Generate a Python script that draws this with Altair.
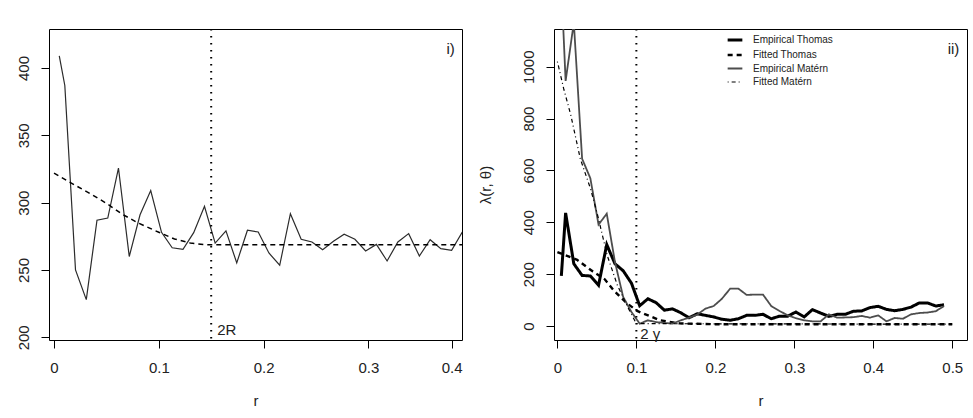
import altair as alt
import pandas as pd

FONT = "Liberation Sans"

# ---------------- left panel (i) ----------------
left_r = [0.005, 0.0103, 0.0205, 0.0308, 0.0410, 0.0513, 0.0615, 0.0718, 0.0821, 0.0923,
          0.1026, 0.1128, 0.1231, 0.1333, 0.1436, 0.1538, 0.1641, 0.1744, 0.1846, 0.1949,
          0.2051, 0.2154, 0.2256, 0.2359, 0.2462, 0.2564, 0.2667, 0.2769, 0.2872, 0.2974,
          0.3077, 0.3179, 0.3282, 0.3385, 0.3487, 0.3590, 0.3692, 0.3795, 0.3897]
left_emp = [409, 387, 250, 228, 287, 288.6, 325.7, 260, 291, 309,
            278, 266.5, 265.3, 277.7, 297.3, 270, 279, 255.3, 279.5, 278.2,
            262.6, 253.5, 291.8, 272.8, 270.8, 265, 271.3, 276.5, 272.8, 264.1,
            269, 256.7, 270.8, 277, 260.4, 272.5, 265.8, 264.6, 278.2]
left_fit_r = [0, 0.02, 0.035, 0.05, 0.065, 0.08, 0.10, 0.115, 0.13, 0.145, 0.16, 0.40]
left_fit = [322, 313, 306.5, 299.5, 291.5, 285, 278, 273, 270, 268.8, 268.8, 268.8]
left_vline = [0.15]
left_xticks = [0, 0.1, 0.2, 0.3, 0.3795]
left_yticks = [200, 250, 300, 350, 400]

# ---------------- right panel (ii) ----------------
right_r = [0.005, 0.0104, 0.0208, 0.0313, 0.0417, 0.0521, 0.0625, 0.0729, 0.0833, 0.0938,
           0.1042, 0.1146, 0.1250, 0.1354, 0.1458, 0.1563, 0.1667, 0.1771, 0.1875, 0.1979,
           0.2083, 0.2188, 0.2292, 0.2396, 0.2500, 0.2604, 0.2708, 0.2813, 0.2917, 0.3021,
           0.3125, 0.3229, 0.3333, 0.3438, 0.3542, 0.3646, 0.3750, 0.3854, 0.3958, 0.4063,
           0.4167, 0.4271, 0.4375, 0.4479, 0.4583, 0.4688, 0.4792, 0.4896]
emp_thomas = [193, 436, 240, 195, 193, 157, 314, 240, 213, 165,
              78, 105, 90, 61, 66, 51, 32, 47, 41, 35,
              26, 22, 28, 41, 41, 45, 28, 38, 38, 54,
              35, 63, 50, 37, 45, 45, 57, 58, 71, 76,
              64, 59, 64, 73, 89, 89, 77, 82]
emp_matern = [1320, 945, 1170, 645, 570, 391, 433, 247, 112, 54,
              9, 22, 15, 12, 9, 22, 32, 44, 67, 77,
              105, 144, 144, 120, 121, 121, 77, 58, 41, 30,
              22, 18, 18, 45, 32, 33, 34, 39, 32, 41,
              18, 31, 28, 45, 50, 52, 57, 77]
fit_thomas_r = [0, 0.025, 0.045, 0.06, 0.072, 0.088, 0.101, 0.13, 0.155, 0.2, 0.5]
fit_thomas = [285, 255, 210, 180, 135, 88, 58, 22, 10, 7, 7]
fit_matern_r = [0, 0.008, 0.017, 0.029, 0.042, 0.051, 0.063, 0.076, 0.089, 0.1, 0.5]
fit_matern = [1020, 915, 813, 645, 529, 427, 273, 157, 73, 9, 7]
right_vline = [0.1]
right_xticks = [0, 0.1, 0.2, 0.3, 0.4, 0.5]
right_yticks = [0, 200, 400, 600, 800, 1000]

series_names = ["Empirical Thomas", "Fitted Thomas", "Empirical Matérn", "Fitted Matérn"]

W, H = 413, 311

# ---------- left chart ----------
lx = alt.Scale(domain=[-0.0048, 0.3894], nice=False, zero=False)
ly = alt.Scale(domain=[198.0, 428.96], nice=False, zero=False)
lx_axis = alt.Axis(values=left_xticks, title="r",
                   labelExpr="datum.value == 0 ? '0' : (datum.value > 0.35 ? '0.4' : format(datum.value, '.1f'))")
ly_axis = alt.Axis(values=left_yticks, title=None, format="d", labelAngle=-90, labelAlign="center",
                   labelBaseline="bottom")

df_lemp = pd.DataFrame({"r": left_r, "v": left_emp})
df_lfit = pd.DataFrame({"r": left_fit_r, "v": left_fit})

l_emp = alt.Chart(df_lemp).mark_line(color="#2b2b2b", strokeWidth=1.2, clip=True).encode(
    x=alt.X("r:Q", scale=lx, axis=lx_axis),
    y=alt.Y("v:Q", scale=ly, axis=ly_axis),
    order="r:Q",
)
l_fit = alt.Chart(df_lfit).mark_line(color="black", strokeWidth=1.5, strokeDash=[5, 4], clip=True).encode(
    x="r:Q", y="v:Q", order="r:Q")
l_vl = alt.Chart(pd.DataFrame({"r": left_vline})).mark_rule(
    color="black", strokeWidth=2, strokeDash=[1.5, 5.5]).encode(x="r:Q")
l_txt1 = alt.Chart(pd.DataFrame({"r": [0.15], "v": [205.6], "t": ["2R"]})).mark_text(
    font=FONT, fontSize=15, color="#222", baseline="middle", align="left", dx=6).encode(
    x="r:Q", y="v:Q", text="t:N")
l_txt2 = alt.Chart(pd.DataFrame({"r": [0.3785], "v": [414.0], "t": ["i)"]})).mark_text(
    font=FONT, fontSize=15, color="#222", baseline="middle", align="center").encode(
    x="r:Q", y="v:Q", text="t:N")

left = alt.layer(l_emp, l_fit, l_vl, l_txt1, l_txt2).properties(width=W, height=H)

# ---------- right chart ----------
rx = alt.Scale(domain=[-0.0043, 0.5187], nice=False, zero=False)
ry = alt.Scale(domain=[-54, 1145.4], nice=False, zero=False)
rx_axis = alt.Axis(values=right_xticks, title="r", format=".1~f")
ry_axis = alt.Axis(values=right_yticks, title="λ(r, θ)", format="d", labelAngle=-90,
                   labelAlign="center", labelBaseline="bottom", titlePadding=28)

rows = []
for name, rs, vs in [("Empirical Thomas", right_r, emp_thomas),
                     ("Fitted Thomas", fit_thomas_r, fit_thomas),
                     ("Empirical Matérn", right_r, emp_matern),
                     ("Fitted Matérn", fit_matern_r, fit_matern)]:
    for r, v in zip(rs, vs):
        rows.append({"series": name, "r": r, "v": v})
df_right = pd.DataFrame(rows)

leg = alt.Legend(orient="none", legendX=677, legendY=2, title=None, symbolType="stroke",
                 symbolSize=216, labelFont=FONT, labelFontSize=10, labelColor="#222",
                 labelOffset=9, rowPadding=-2.7, padding=0)

r_lines = alt.Chart(df_right).mark_line(clip=True).encode(
    x=alt.X("r:Q", scale=rx, axis=rx_axis),
    y=alt.Y("v:Q", scale=ry, axis=ry_axis),
    color=alt.Color("series:N", scale=alt.Scale(domain=series_names,
                                                 range=["black", "black", "#4d4d4d", "black"]),
                    legend=leg),
    strokeDash=alt.StrokeDash("series:N", scale=alt.Scale(domain=series_names,
                                                           range=[[1, 0], [5, 4], [1, 0], [1, 3, 4, 3]]),
                              legend=leg),
    strokeWidth=alt.StrokeWidth("series:N", scale=alt.Scale(domain=series_names,
                                                             range=[3, 1.2, 1, 1.2]),
                                legend=leg),
    order="r:Q",
)
r_vl = alt.Chart(pd.DataFrame({"r": right_vline})).mark_rule(
    color="black", strokeWidth=2, strokeDash=[1.5, 5.5]).encode(x="r:Q")
r_txt1 = alt.Chart(pd.DataFrame({"r": [0.1], "v": [-30.0], "t": ["2 γ"]})).mark_text(
    font=FONT, fontSize=15, color="#222", baseline="middle", align="left", dx=4).encode(
    x="r:Q", y="v:Q", text="t:N")
r_txt2 = alt.Chart(pd.DataFrame({"r": [0.5016], "v": [1068.0], "t": ["ii)"]})).mark_text(
    font=FONT, fontSize=15, color="#222", baseline="middle", align="center").encode(
    x="r:Q", y="v:Q", text="t:N")

right = alt.layer(r_lines, r_vl, r_txt1, r_txt2).properties(width=W, height=H)

chart = alt.hconcat(left, right, spacing=92, bounds="flush").properties(
    padding={"left": 15, "top": 27, "right": 5, "bottom": 5},
    background="white",
).configure_view(stroke="black", strokeWidth=1).configure_axis(
    domain=False, grid=False, tickColor="black", tickSize=8, tickWidth=1,
    labelFont=FONT, labelFontSize=15, labelColor="#222", labelPadding=10,
    titleFont=FONT, titleFontSize=15, titleFontWeight="normal", titleColor="#222",
).configure_axisX(labelPadding=12, titlePadding=18).configure_axisY(titlePadding=14)

chart.save("out.html", embed_options={"renderer": "svg", "actions": False})
